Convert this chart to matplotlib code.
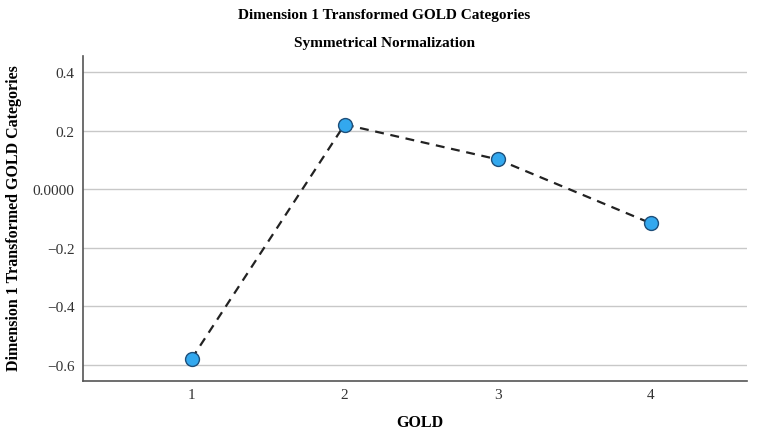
import numpy as np
import matplotlib.pyplot as plt

plt.rcParams['font.family'] = 'Liberation Serif'

# donnees
gold = [1, 2, 3, 4]
dim1 = [-0.579, 0.221, 0.102, -0.116]
yticks = [0.4, 0.2, 0.0, -0.2, -0.4, -0.6]
ylabels = ['0.4', '0.2', '0.0000', '\u22120.2', '\u22120.4', '\u22120.6']

fig = plt.figure(figsize=(7.69, 4.35), dpi=100)
ax = fig.add_axes([83/769, 1 - 382/435, (747 - 83)/769, (382 - 57)/435])

ax.plot(gold, dim1, linestyle='--', color='#222222', linewidth=1.6, dashes=(4, 3),
        marker='o', markersize=10, markerfacecolor='#33a8ee', markeredgecolor='#1e4f7a',
        markeredgewidth=1.0, zorder=3)

ax.set_xlim(0.29, 4.63)
ax.set_ylim(-0.655, 0.455)
ax.set_xticks(gold)
ax.set_yticks(yticks)
ax.set_yticklabels(ylabels)
ax.yaxis.grid(True, color='#c8c8c8', linewidth=1.0)
ax.set_axisbelow(True)
ax.tick_params(axis='y', length=0, labelsize=11, colors='#333333', pad=6)
ax.tick_params(axis='x', length=0, labelsize=11, colors='#333333', pad=5)

for s in ['top', 'right']:
    ax.spines[s].set_visible(False)
for s in ['left', 'bottom']:
    ax.spines[s].set_color('#555555')
    ax.spines[s].set_linewidth(1.2)

# titres des axes
fig.text(420/769, 1 - 423/435, 'GOLD', ha='center', va='center',
         fontsize=11.5, fontweight='bold')
fig.text(14/769, 1 - 218/435, 'Dimension 1 Transformed GOLD Categories', ha='center', va='center',
         rotation=90, fontsize=11.5, fontweight='bold')

fig.text(0.5, 1 - 15/435, 'Dimension 1 Transformed GOLD Categories', ha='center', va='center',
         fontsize=11, fontweight='bold')
fig.text(0.5, 1 - 43/435, 'Symmetrical Normalization', ha='center', va='center',
         fontsize=11, fontweight='bold')

plt.savefig('out.png', dpi=100)
